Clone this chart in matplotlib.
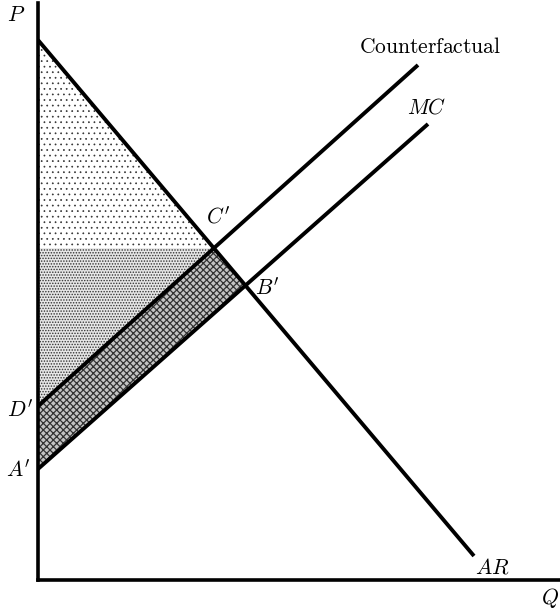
import matplotlib

matplotlib.use("Agg")
import matplotlib.pyplot as plt
import numpy as np

plt.rcParams["mathtext.fontset"] = "cm"

# Kurven als Endpunkte (Menge Q, Preis P)
ar_q = [0, 436]
ar_p = [540, 24]
mc_q = [0, 390]
mc_p = [111, 456]
cf_q = [0, 380]
cf_p = [174, 515]

q_max = 522
p_max = 577


def line_params(q, p):
    slope = (p[1] - p[0]) / (q[1] - q[0])
    return slope, p[0] - slope * q[0]


def intersect(a, b):
    s1, i1 = a
    s2, i2 = b
    x = (i2 - i1) / (s1 - s2)
    return x, s1 * x + i1


ar = line_params(ar_q, ar_p)
mc = line_params(mc_q, mc_p)
cf = line_params(cf_q, cf_p)
c_pt = intersect(ar, cf)
b_pt = intersect(ar, mc)

fig = plt.figure(figsize=(5.6, 6.12), dpi=100)
ax = fig.add_axes([38 / 560, 32 / 612, 522 / 560, 577 / 612])
ax.set_xlim(0, q_max)
ax.set_ylim(0, p_max)

# Flaechen: Rente oben (lockere Punkte), darunter dichte Punkte, Band zwischen den Kosten
with plt.rc_context({"hatch.linewidth": 0.5}):
    ax.fill([0, c_pt[0], 0], [ar_p[0], c_pt[1], c_pt[1]],
            facecolor="white", edgecolor="#333333", hatch="...", linewidth=0)
with plt.rc_context({"hatch.linewidth": 0.7}):
    ax.fill([0, c_pt[0], 0], [c_pt[1], c_pt[1], cf_p[0]],
            facecolor="#e6e6e6", edgecolor="#333333", hatch="......", linewidth=0)
with plt.rc_context({"hatch.linewidth": 0.9}):
    ax.fill([0, c_pt[0], b_pt[0], 0], [cf_p[0], c_pt[1], b_pt[1], mc_p[0]],
            facecolor="#c4c4c4", edgecolor="#333333", hatch="xxxxx", linewidth=0)

lw = 2.8
ax.plot(ar_q, ar_p, color="black", lw=lw, solid_capstyle="butt")
ax.plot(mc_q, mc_p, color="black", lw=lw, solid_capstyle="butt")
ax.plot(cf_q, cf_p, color="black", lw=lw, solid_capstyle="butt")

for side in ["top", "right"]:
    ax.spines[side].set_visible(False)
for side in ["left", "bottom"]:
    ax.spines[side].set_linewidth(2.6)
ax.set_xticks([])
ax.set_yticks([])

fs = 15.5
ax.text(-22, p_max - 12, r"$P$", fontsize=fs, ha="center", va="center")
ax.text(q_max - 10, -18, r"$Q$", fontsize=fs, ha="center", va="center", clip_on=False)
ax.text(ar_q[1] + 18, ar_p[1] - 12, r"$AR$", fontsize=fs, ha="center", va="center")
ax.text(mc_q[1] - 1, mc_p[1] + 16, r"$MC$", fontsize=fs, ha="center", va="center")
ax.text(cf_q[1] + 12, cf_p[1] + 18, r"$\mathrm{Counterfactual}$", fontsize=fs,
        ha="center", va="center")
ax.text(c_pt[0] + 4, c_pt[1] + 31, r"$C'$", fontsize=fs, ha="center", va="center")
ax.text(b_pt[0] + 22, b_pt[1] - 3, r"$B'$", fontsize=fs, ha="center", va="center")
ax.text(-18, cf_p[0] - 4, r"$D'$", fontsize=fs, ha="center", va="center")
ax.text(-20, mc_p[0] - 1, r"$A'$", fontsize=fs, ha="center", va="center")

fig.savefig("out.png", dpi=100)
